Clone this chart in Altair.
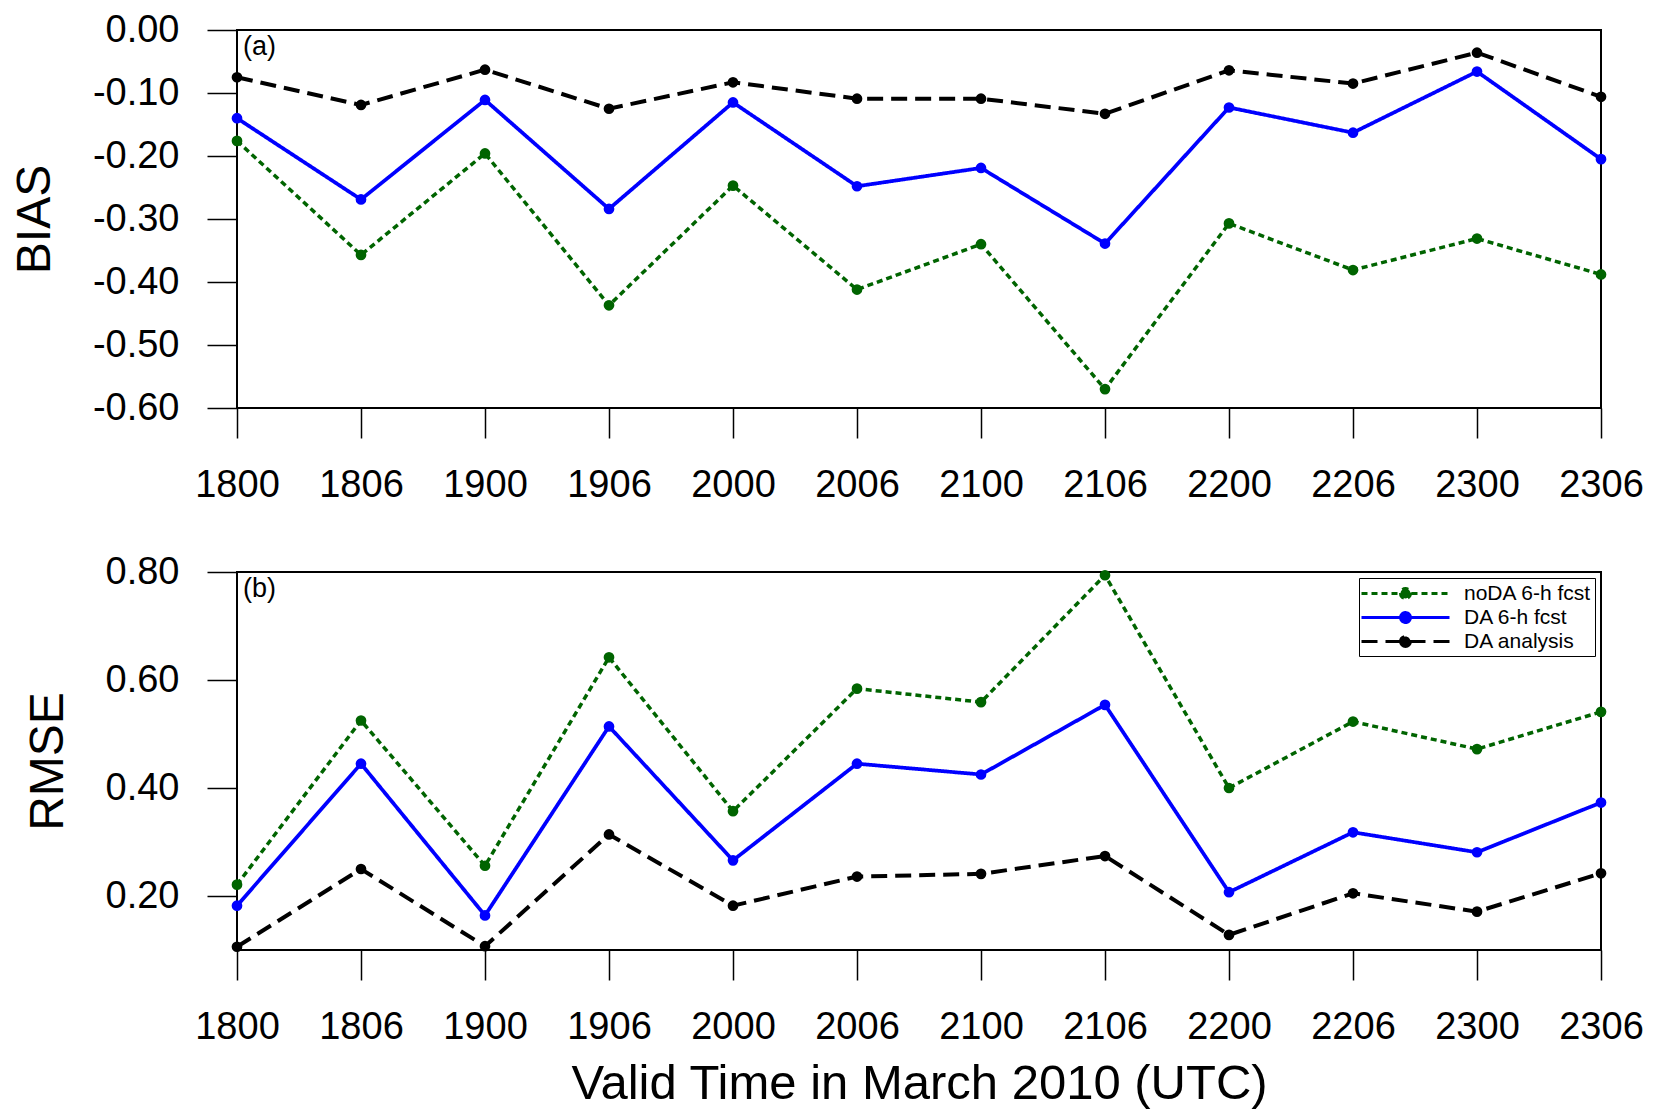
import altair as alt
import pandas as pd

FONT = "Liberation Sans"

times = ["1800", "1806", "1900", "1906", "2000", "2006",
         "2100", "2106", "2200", "2206", "2300", "2306"]
series_names = ["noDA 6-h fcst", "DA 6-h fcst", "DA analysis"]

bias_noda = [-0.176, -0.357, -0.196, -0.437, -0.247, -0.412,
             -0.340, -0.570, -0.307, -0.381, -0.331, -0.388]
bias_da_fcst = [-0.140, -0.269, -0.111, -0.284, -0.115, -0.248,
                -0.219, -0.339, -0.123, -0.163, -0.066, -0.205]
bias_da_anl = [-0.075, -0.119, -0.063, -0.125, -0.083, -0.109,
               -0.109, -0.133, -0.064, -0.085, -0.036, -0.106]

rmse_noda = [0.221, 0.525, 0.256, 0.642, 0.357, 0.584,
             0.559, 0.794, 0.400, 0.523, 0.472, 0.541]
rmse_da_fcst = [0.182, 0.445, 0.164, 0.514, 0.266, 0.445,
                0.425, 0.554, 0.207, 0.318, 0.281, 0.373]
rmse_da_anl = [0.106, 0.250, 0.107, 0.314, 0.182, 0.236,
               0.241, 0.274, 0.128, 0.205, 0.171, 0.242]

bias_ticks = [0.0, -0.1, -0.2, -0.3, -0.4, -0.5, -0.6]
rmse_ticks = [0.2, 0.4, 0.6, 0.8]

colors = ["#006400", "#0000ff", "#000000"]
dashes = [[6, 4], [1, 0], [16, 8]]
widths = [3.5, 4, 3.5]

W, H = 1364, 378

LEGEND_SYMBOL = ("M-4,0L4,0M-0.45,0A0.45,0.45,0,1,0,0.45,0"
                 "A0.45,0.45,0,1,0,-0.45,0Z")


def long_df(lists):
    rows = []
    for name, vals in zip(series_names, lists):
        for t, v in zip(times, vals):
            rows.append({"time": t, "series": name, "value": v})
    return pd.DataFrame(rows)


def panel(lists, ydomain, yticks, ytitle, tag, xtitle, legend):
    df = long_df(lists)
    xenc = alt.X(
        "time:O", sort=times,
        scale=alt.Scale(type="point", padding=0),
        axis=alt.Axis(title=xtitle, labelAngle=0, titleFontSize=49,
                      titlePadding=13, titleFontWeight="normal"),
    )
    yenc = alt.Y(
        "value:Q",
        scale=alt.Scale(domain=ydomain, nice=False, zero=False),
        axis=alt.Axis(values=yticks, title=ytitle,
                      labelExpr="replace(format(datum.value, '.2f'), '\u2212', '-')"),
    )
    color = alt.Color("series:N", scale=alt.Scale(domain=series_names, range=colors),
                      legend=legend)
    dash = alt.StrokeDash("series:N", scale=alt.Scale(domain=series_names, range=dashes),
                          legend=legend)
    sw = alt.StrokeWidth("series:N", scale=alt.Scale(domain=series_names, range=widths),
                         legend=None)
    base = alt.Chart(df).encode(x=xenc, y=yenc)
    lines = base.mark_line().encode(color=color, strokeDash=dash, strokeWidth=sw)
    pts = base.mark_circle(size=115, opacity=1).encode(color=color)
    lab = alt.Chart(pd.DataFrame({"t": [tag]})).mark_text(
        align="left", baseline="top", fontSize=27, font=FONT, color="black"
    ).encode(text="t:N", x=alt.value(6), y=alt.value(4))
    return alt.layer(lines, pts, lab).properties(width=W, height=H)


legend_b = alt.Legend(
    title=None, orient="top-right", offset=6, symbolType=LEGEND_SYMBOL,
    symbolSize=484, symbolStrokeWidth=3, symbolOffset=31,
    labelFontSize=21, labelFont=FONT, labelOffset=46,
    fillColor="white", strokeColor="black", padding=3, rowPadding=0,
)

top = panel([bias_noda, bias_da_fcst, bias_da_anl], [-0.6, 0.0], bias_ticks,
            "BIAS", "(a)", None, None)
bottom = panel([rmse_noda, rmse_da_fcst, rmse_da_anl], [0.1, 0.8], rmse_ticks,
               "RMSE", "(b)", "Valid Time in March 2010 (UTC)", legend_b)

chart = alt.vconcat(top, bottom, spacing=47).resolve_legend(
    color="independent", strokeDash="independent"
).resolve_scale(color="independent", strokeDash="independent").properties(
    padding={"left": 2, "top": 2, "right": 5, "bottom": 5}
).configure(font=FONT).configure_view(
    stroke="black", strokeWidth=2
).configure_axis(
    grid=False, domain=False, ticks=True, tickColor="black", tickWidth=1.5,
    tickSize=30, labelFontSize=38, labelColor="black", labelFont=FONT,
    labelPadding=28, titleFont=FONT, titleFontSize=48, titleFontWeight="normal",
    titleColor="black", titlePadding=33,
)

chart.save("out.html", embed_options={"renderer": "svg", "actions": False})
